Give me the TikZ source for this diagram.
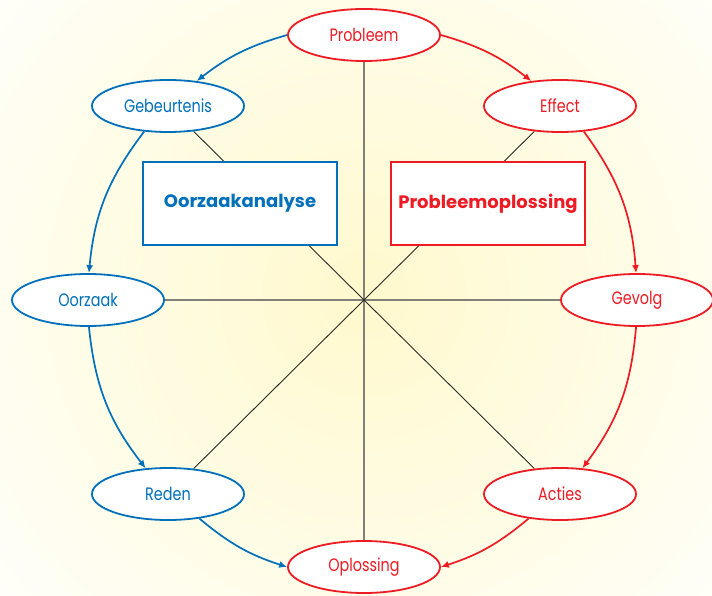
\documentclass[tikz,border=0pt]{standalone}
\usepackage{fontspec}
\setmainfont{Poppins}
\newfontfamily\lblfont{Poppins}[FakeStretch=0.8]
\newfontfamily\titlefont{Poppins}[FakeStretch=1.0]
\usetikzlibrary{shapes.geometric,arrows.meta,backgrounds}

\definecolor{cblue}{RGB}{0,112,186}
\definecolor{cred}{RGB}{237,28,36}
\definecolor{glowy}{RGB}{255,249,205}
\definecolor{axisgray}{RGB}{130,127,118}
\definecolor{diaggray}{RGB}{40,40,36}

\tikzset{
  stage/.style={ellipse, draw, line width=1.8pt, fill=white,
    minimum width=152pt, minimum height=52pt, inner sep=0pt,
    font=\lblfont\fontsize{18}{18}\selectfont},
  bluestage/.style={stage, draw=cblue, text=cblue},
  redstage/.style={stage, draw=cred, text=cred},
  phase/.style={rectangle, draw, line width=1.8pt, fill=white,
    minimum width=194pt, minimum height=83pt, inner sep=0pt,
    font=\titlefont\bfseries\fontsize{18}{18}\selectfont},
  flow/.style={line width=1.7pt, -{Latex[length=8pt,width=7pt]}},
  axis/.style={draw=axisgray, line width=1.4pt},
  diag/.style={draw=diaggray, line width=0.9pt}
}

\begin{document}
\begin{tikzpicture}[x=1pt,y=1pt]
\useasboundingbox (0,0) rectangle (712,595);

% stages of the cycle
\node[redstage]  (P)  at (364,560) {Probleem};
\node[redstage]  (E)  at (560,489) {Effect};
\node[redstage]  (Gv) at (637,295) {Gevolg};
\node[redstage]  (A)  at (560,101) {Acties};
\node[redstage]  (O)  at (364,28)  {Oplossing};
\node[bluestage] (R)  at (168,101) {Reden};
\node[bluestage] (Oz) at (88,295)  {Oorzaak};
\node[bluestage] (G)  at (168,489) {Gebeurtenis};

% the two halves
\node[phase, draw=cblue, text=cblue] (B1) at (240,391.5) {Oorzaakanalyse};
\node[phase, draw=cred,  text=cred]  (B2) at (488,391.5) {Probleemoplossing};

\begin{pgfonlayer}{background}
  % soft yellow glow behind the cycle
  \fill[white] (0,0) rectangle (712,595);
  \begin{scope}
    \clip (0,0) rectangle (712,595);
    \shade[inner color=glowy, outer color=white] (364,300) circle (540);
  \end{scope}
  % spokes through the centre
  \draw[axis] (P) -- (O);
  \draw[axis] (Oz) -- (Gv);
  \draw[diag] (G) -- (A);
  \draw[diag] (E) -- (R);
\end{pgfonlayer}

% cause analysis (left, blue)
\draw[flow, cblue] (P.west) to[bend right=11] (G.41);
\draw[flow, cblue] (G.227) to[bend right=16] (Oz.88);
\draw[flow, cblue] (Oz.272) to[bend right=16] (R.131);
\draw[flow, cblue] (R.-38) to[bend right=11] (O.west);

% problem solving (right, red)
\draw[flow, cred] (P.east) to[bend left=11] (E.139);
\draw[flow, cred] (E.-47) to[bend left=16] (Gv.92);
\draw[flow, cred] (Gv.268) to[bend left=16] (A.49);
\draw[flow, cred] (A.218) to[bend left=11] (O.east);
\end{tikzpicture}
\end{document}
